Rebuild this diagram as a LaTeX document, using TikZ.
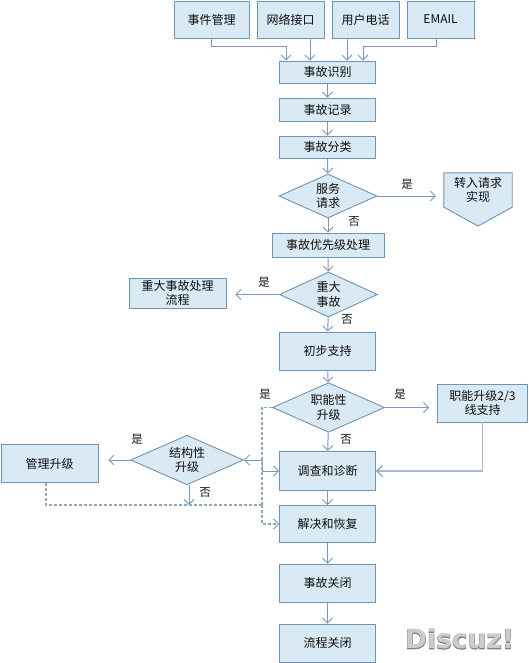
\documentclass[tikz,border=0pt]{standalone}
\usepackage{fontspec}
\usetikzlibrary{shapes.geometric,arrows.meta}
\newfontfamily\cjk{Noto Sans CJK SC}
\newfontfamily\wmfont[FakeBold=3]{DejaVu Sans Bold}
\newfontfamily\wmin{DejaVu Sans Bold}
\definecolor{edge}{HTML}{6F93B4}
\definecolor{fillc}{HTML}{DAEAF4}
\definecolor{linec}{HTML}{7B98BC}
\definecolor{linel}{HTML}{A6BAD0}
\definecolor{dashc}{HTML}{8FA8C0}
\tikzset{
  txt/.style={font=\cjk\fontsize{12}{14.5}\selectfont,text=black!95,align=center},
  bx/.style={txt,draw=edge,fill=fillc,line width=0.9pt,inner sep=0pt},
  dm/.style={bx,diamond,aspect=1.5},
  lbl/.style={font=\cjk\fontsize{11.5}{14}\selectfont,text=black!90,inner sep=0pt},
  arr/.style={draw=linec,line width=1pt,-{Straight Barb[length=5pt,width=10pt,line width=0.9pt]}},
  arrl/.style={draw=linel,line width=1.4pt,-{Straight Barb[length=6pt,width=11pt,line width=1pt,color=linec]}},
  dsh/.style={draw=dashc,line width=1.1pt,dash pattern=on 3pt off 2pt},
}
\begin{document}
\begin{tikzpicture}[x=1pt,y=-1pt]
\useasboundingbox (0,0) rectangle (529,663);
% top row
\node[bx,minimum width=75pt,minimum height=37pt] (a1) at (211.5,19.5) {事件管理};
\node[bx,minimum width=67pt,minimum height=37pt] (a2) at (290.5,19.5) {网络接口};
\node[bx,minimum width=67pt,minimum height=37pt] (a3) at (365.5,19.5) {用户电话};
\node[bx,minimum width=67pt,minimum height=37pt] (a4) at (440.5,19.5) {EMAIL};
% main column
\node[bx,minimum width=96pt,minimum height=22pt] (b1) at (327.5,72) {事故识别};
\node[bx,minimum width=96pt,minimum height=23pt] (b2) at (327.5,109.5) {事故记录};
\node[bx,minimum width=96pt,minimum height=22pt] (b3) at (327.5,147) {事故分类};
\node[dm,minimum width=98pt,minimum height=44pt] (d1) at (328,196) {服务\\请求};
\node[bx,minimum width=112pt,minimum height=24pt] (b4) at (328,245) {事故优先级处理};
\node[dm,minimum width=98pt,minimum height=45pt] (d2) at (328.5,294.5) {重大\\事故};
\node[bx,minimum width=97pt,minimum height=30pt] (m1) at (177.5,293) {重大事故处理\\流程};
\node[bx,minimum width=96pt,minimum height=38pt] (b5) at (327.5,351) {初步支持};
\node[dm,minimum width=112pt,minimum height=45pt] (d3) at (328.5,407.5) {职能性\\升级};
\node[bx,minimum width=90pt,minimum height=38pt] (f1) at (482.5,403) {职能升级2/3\\线支持};
\node[bx,minimum width=96pt,minimum height=39pt] (b6) at (327.5,471) {调查和诊断};
\node[dm,minimum width=113pt,minimum height=46pt] (d4) at (187,460) {结构性\\升级};
\node[bx,minimum width=97pt,minimum height=38pt] (g1) at (49.5,463.5) {管理升级};
\node[bx,minimum width=96pt,minimum height=37pt] (b7) at (327.5,524) {解决和恢复};
\node[bx,minimum width=96pt,minimum height=38pt] (b8) at (327.5,583) {事故关闭};
\node[bx,minimum width=96pt,minimum height=38pt] (b9) at (327.5,643) {流程关闭};
% pentagon
\node[txt,inner sep=0pt,minimum width=68pt,minimum height=34pt] (p) at (478,190) {};
\draw[draw=edge,fill=fillc,line width=0.9pt] (p.north west) -- (p.north east) -- (p.south east) -- (478,226) -- (p.south west) -- cycle;
\node[txt] at (p.center) {转入请求\\实现};
% arrows: inputs
\draw[arr] (a1.south) -- ++(0,8) -| ([xshift=7pt]b1.north west);
\draw[arr] ([xshift=19.5pt]a2.south) -- ([xshift=-17.5pt]b1.north);
\draw[arr] ([xshift=-18.5pt]a3.south) -- ([xshift=19.5pt]b1.north);
\draw[arr] ([xshift=-4.5pt]a4.south) -- ++(0,8) -| ([xshift=35.5pt]b1.north);
% main flow
\draw[arr] (b1) -- (b2);
\draw[arr] (b2) -- (b3);
\draw[arr] (b3) -- (d1);
\draw[arr] (d1) -- (b4);
\draw[arr] (b4) -- (d2);
\draw[arr] (d2) -- (b5);
\draw[arr] (b5) -- (d3);
\draw[arr] (d3) -- (b6);
\draw[arr] (b6) -- (b7);
\draw[arr] (b7) -- (b8);
\draw[arr] (b8) -- (b9);
% branches
\draw[arr] (d1.east) -- ([xshift=-8pt]p.west |- d1.east);
\draw[arr] (d2.west) -- ([xshift=9pt]m1.east |- d2.west);
\draw[arr] (d3.east) -- ([xshift=-8pt]f1.west |- d3.east);
\draw[arrl] (f1.south) |- (b6.east);
\draw[arr] (d4.west) -- ([xshift=10pt]g1.east |- d4.west);
% double headed
\coordinate (j) at (262,460);
\draw[arr] (j) -- (d4.east);
\draw[arr] (j) |- (b6.west);
% dashed
\coordinate (k) at (262,505);
\draw[dsh] (d3.west) -- (j |- d3.west) -- (k);
\draw[dsh,-{Straight Barb[length=5pt,width=10pt,line width=0.9pt,color=linec]}] (k) |- (b7.west);
\draw[dsh] ([xshift=-3.5pt]g1.south) |- (k);
\draw[arr] ([xshift=2pt]d4.south) -- ([xshift=2pt]d4.south |- k);
% labels
\node[lbl] (l1) at (407,184) {是};
\node[lbl] (l2) at (354,221) {否};
\node[lbl] (l3) at (264,282) {是};
\node[lbl] (l4) at (347,319) {否};
\node[lbl] (l5) at (265,394) {是};
\node[lbl] (l6) at (400,394) {是};
\node[lbl] (l7) at (346,439) {否};
\node[lbl] (l8) at (137,439) {是};
\node[lbl] (l9) at (205,492) {否};
% watermark
\node[inner sep=0pt,text=black!50,font=\wmfont\fontsize{26.5}{30}\selectfont] (w) at (459.5,639) {Discuz!};
\node[inner sep=0pt,text=black!20,font=\wmin\fontsize{26.5}{30}\selectfont] at (w.center) {Discuz!};
\end{tikzpicture}
\end{document}
